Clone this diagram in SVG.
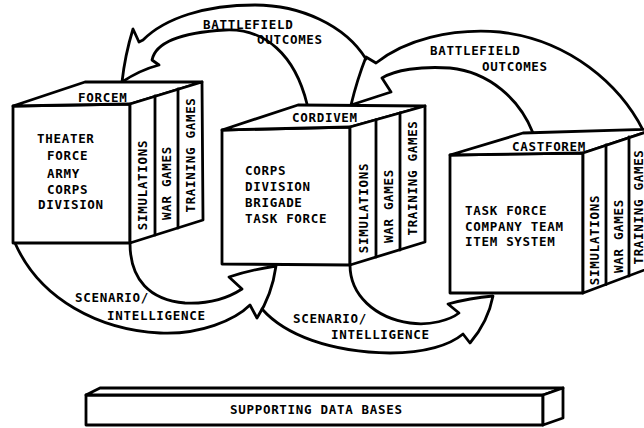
<svg xmlns="http://www.w3.org/2000/svg" width="644" height="428" viewBox="0 0 644 428">
<style>
.ln{fill:none;stroke:#000;stroke-width:2.8;stroke-linejoin:round;stroke-linecap:round}
.fc{fill:#fff;stroke:#000;stroke-width:2.8;stroke-linejoin:round}
text{font-family:"DejaVu Sans Mono","Liberation Mono",monospace;font-weight:bold;font-size:12.5px;letter-spacing:0.7px;fill:#000}
.m{text-anchor:middle}
</style>
<rect width="644" height="428" fill="#fff"/>
<g id="connectors">
<g id="arrow-outcomes-left">
<path class="ln" d="M366,59 C345,25 300,5 255,5 C205,5 165,18 143,40 L139,42 L133,29 Q125,55 122,82 Q140,70 159,65 L152,60 C155,45 175,33 225,30 C265,28 295,55 307,104"/>
<text x="203" y="29">BATTLEFIELD</text>
<text x="257" y="44">OUTCOMES</text>
</g>
<g id="arrow-outcomes-right">
<path class="ln" d="M643,130 C620,85 570,40 500,32 C450,28 405,40 376,63 L366,57 Q357,80 351,105 L391,92 L382,78 C395,70 420,66 450,68 C490,72 520,100 533,133"/>
<text x="430" y="55">BATTLEFIELD</text>
<text x="482" y="71">OUTCOMES</text>
</g>
<g id="arrow-scenario-left">
<path class="ln" d="M15,243 C40,300 100,330 160,333 C200,335 235,320 250,305 L257,318 Q272,295 276,266 Q250,270 229,277 L242,289 C225,300 205,304 185,303 C150,300 130,280 130,243"/>
<text x="75" y="302">SCENARIO/</text>
<text x="107" y="320">INTELLIGENCE</text>
</g>
<g id="arrow-scenario-right">
<path class="ln" d="M262,309 C285,335 330,352 390,353 C425,353 450,345 463,334 L470,343 Q488,322 493,296 Q470,298 448,304 L459,313 C450,320 430,326 410,323 C375,318 350,295 350,265"/>
<text x="293" y="323">SCENARIO/</text>
<text x="331" y="339">INTELLIGENCE</text>
</g>
</g>
<g id="forcem">
<path class="fc" d="M13,106 L130,104 L130,243 L13,243 Z"/>
<path class="fc" d="M13,106 L85,82 L202,82 L130,104 Z"/>
<path class="fc" d="M130,104 L202,82 L203,220 L130,243 Z"/>
<path class="ln" d="M155,96 L155,235 M178,89 L178,228"/>
<text x="78" y="102">FORCEM</text>
<text x="37" y="143">THEATER</text>
<text x="47" y="160">FORCE</text>
<text x="47" y="178">ARMY</text>
<text x="47" y="194">CORPS</text>
<text x="38" y="209">DIVISION</text>
<text class="m" transform="translate(146.5,185) rotate(-90)">SIMULATIONS</text>
<text class="m" transform="translate(170.5,183) rotate(-90)">WAR GAMES</text>
<text class="m" transform="translate(194.5,155) rotate(-90)">TRAINING GAMES</text>
</g>
<g id="cordivem">
<path class="fc" d="M222,130 L350,127 L350,265 L222,264 Z"/>
<path class="fc" d="M222,130 L298,105 L425,106 L350,127 Z"/>
<path class="fc" d="M350,127 L425,106 L425,242 L350,265 Z"/>
<path class="ln" d="M376,120 L376,257 M400,113 L400,250"/>
<text x="292" y="122">CORDIVEM</text>
<text x="245" y="175">CORPS</text>
<text x="245" y="191">DIVISION</text>
<text x="245" y="207">BRIGADE</text>
<text x="245" y="223">TASK FORCE</text>
<text class="m" transform="translate(367.5,208) rotate(-90)">SIMULATIONS</text>
<text class="m" transform="translate(392.5,206) rotate(-90)">WAR GAMES</text>
<text class="m" transform="translate(416.5,178) rotate(-90)">TRAINING GAMES</text>
</g>
<g id="castforem">
<path class="fc" d="M450,155 L583,153 L583,293 L450,293 Z"/>
<path class="fc" d="M450,155 L523,133 L655,129 L583,153 Z"/>
<path class="fc" d="M583,153 L655,129 L655,266 L583,293 Z"/>
<path class="ln" d="M606,145 L606,284.5 M629,137 L629,276"/>
<text x="512" y="151">CASTFOREM</text>
<text x="465" y="215">TASK FORCE</text>
<text x="465" y="231">COMPANY TEAM</text>
<text x="465" y="246">ITEM SYSTEM</text>
<text class="m" transform="translate(598.5,240) rotate(-90)">SIMULATIONS</text>
<text class="m" transform="translate(622.5,236) rotate(-90)">WAR GAMES</text>
<text class="m" transform="translate(642.5,207) rotate(-90)">TRAINING GAMES</text>
</g>
<g id="databases">
<path class="fc" d="M86,395 L543,395 L543,425 L86,425 Z"/>
<path class="fc" d="M86,395 L100,388 L563,388 L543,395 Z"/>
<path class="fc" d="M543,395 L563,388 L563,418 L543,425 Z"/>
<text x="230" y="414">SUPPORTING DATA BASES</text>
</g>
</svg>
